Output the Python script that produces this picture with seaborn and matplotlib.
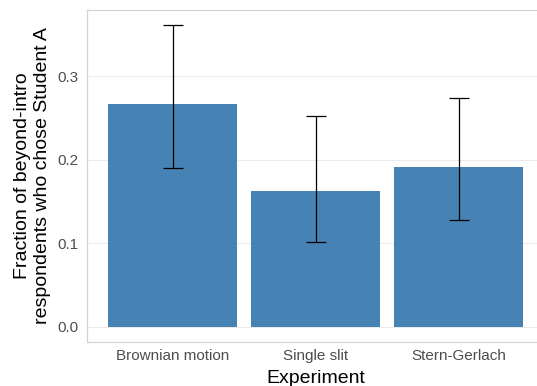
import matplotlib
matplotlib.use("Agg")
import matplotlib.pyplot as plt
import seaborn as sns
import numpy as np
import pandas as pd

# data
experiments = ["Brownian motion", "Single slit", "Stern-Gerlach"]
fraction = [0.267, 0.163, 0.191]
ci_low = [0.190, 0.101, 0.128]
ci_high = [0.361, 0.252, 0.274]

df = pd.DataFrame({"Experiment": experiments, "Fraction": fraction})

sns.set_theme(style="white")
plt.rcParams["font.family"] = ["Liberation Sans", "DejaVu Sans"]

fig = plt.figure(figsize=(5.37, 3.86), dpi=100)
W, H = 537, 386
ax = fig.add_axes([87 / W, 1 - 341.7 / H, 457.6 / W, (341.7 - 10) / H])

sns.barplot(data=df, x="Experiment", y="Fraction", color="#4682B4",
            saturation=1, width=0.9, errorbar=None, linewidth=0, ax=ax)

pos = np.arange(len(experiments))
yerr = [np.array(fraction) - np.array(ci_low), np.array(ci_high) - np.array(fraction)]
ax.errorbar(pos, fraction, yerr=yerr, fmt="none", ecolor="black",
            elinewidth=0.9, capsize=7, capthick=0.9)

ax.set_xlim(-0.6, 2.6)
ax.set_ylim(-0.0181, 0.3794)
ax.set_yticks([0.0, 0.1, 0.2, 0.3])
ax.set_yticklabels(["0.0", "0.1", "0.2", "0.3"])

ax.grid(axis="y", color="#EBEBEB", linewidth=0.8)
ax.set_axisbelow(True)
for side in ["left", "top", "bottom", "right"]:
    ax.spines[side].set_color("#D4D4D4")
    ax.spines[side].set_linewidth(0.9)

ax.tick_params(axis="both", colors="#B3B3B3", length=3, width=0.7,
               labelcolor="#4D4D4D", labelsize=11, direction="out")
ax.tick_params(axis="x", pad=2)
ax.tick_params(axis="y", pad=3)

ax.set_xlabel("Experiment", fontsize=14, color="black", labelpad=5)
ax.set_ylabel("Fraction of beyond-intro\nrespondents who chose Student A",
              fontsize=14, color="black", labelpad=5)

fig.savefig("out.png", dpi=100)
